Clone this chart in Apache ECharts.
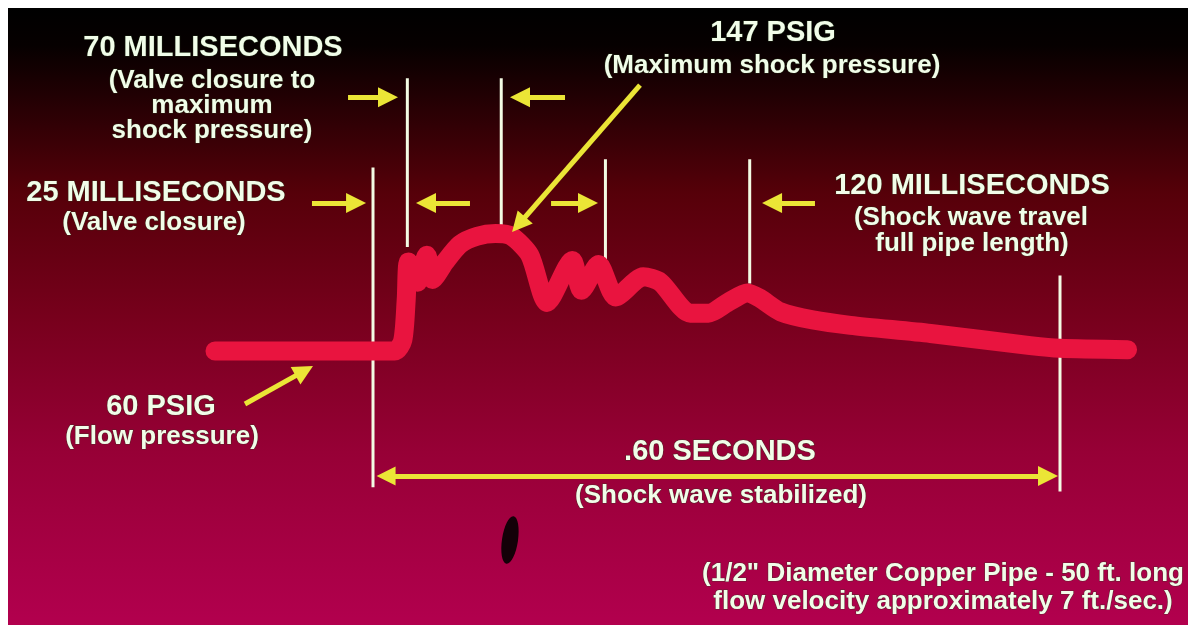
<!DOCTYPE html>
<html>
<head>
<meta charset="utf-8">
<script src="https://cdn.jsdelivr.net/npm/echarts@6/dist/echarts.min.js"></script>
<style>
  html, body { margin: 0; padding: 0; background: #ffffff; }
  #chart { width: 1192px; height: 629px; }
</style>
</head>
<body>
<div id="chart"></div>
<script>
// Pressure trace: time (ms after valve closure starts) and pressure (PSIG)
const times     = [-138, 19, 26, 29, 31, 39, 47, 52, 63, 76, 91, 107, 121, 137, 152, 174, 182, 197, 212, 236, 251, 277, 293, 310, 327, 338, 356, 384, 417, 487, 574, 600, 659];
const pressures = [60, 60, 68, 98, 126, 111, 131, 113, 126, 139, 145, 147, 145, 131, 96, 127, 105, 124, 100, 115, 111, 88, 88, 96, 103, 99, 89, 83, 79, 73, 64, 62, 61];

// Vertical marker lines (time, top and bottom extent in PSIG units)
const markerTimes  = [0, 30, 112, 203, 329, 600];
const markerTop    = [196, 262, 262, 202, 202, 116];
const markerBottom = [-41, 137, 153, 126, 110, -44];

// Annotation arrows [fromTime, fromPsig, toTime, toPsig, double]
const arrowFromT = [-21.8, 167.7, -53.3, 84.7, 155.5, 386.0, 233.2, -111.8, 11.4];
const arrowFromP = [248, 248, 169.6, 169.6, 169.6, 169.6, 257.0, 20.7, -32.6];
const arrowToT   = [13.1, 128.4, -14.8, 46.3, 187.8, 348.5, 127.2, -60.0, 589.5];
const arrowToP   = [248, 248, 169.6, 169.6, 169.6, 169.6, 153.7, 45.3, -32.6];
const arrowBoth  = [false, false, false, false, false, false, false, false, true];

const chart = echarts.init(document.getElementById('chart'), null, { renderer: 'canvas' });

const TXT = '#f1fde9';
const YEL = '#ebe536';
const FONT_T = 'bold 29px "Liberation Sans", Arial, sans-serif';
const FONT_S = 'bold 26px "Liberation Sans", Arial, sans-serif';

function label(text, x, y, font) {
  return {
    type: 'text', x: x, y: y, z: 50,
    style: {
      text: text, font: font, fill: TXT,
      textAlign: 'center', textVerticalAlign: 'middle',
      stroke: 'rgba(40,60,30,0.55)', lineWidth: 1.2,
      shadowColor: 'rgba(200,255,200,0.45)', shadowBlur: 3
    }
  };
}

const series = [];
markerTimes.forEach(function (t, i) {
  series.push({
    type: 'line', z: 2, silent: true, symbol: 'none', animation: false,
    data: [[t, markerBottom[i]], [t, markerTop[i]]],
    lineStyle: { color: '#f3fbe4', width: 3 }
  });
});

series.push({
  type: 'line', z: 5, silent: true, symbol: 'none', animation: false,
  smooth: 0.25,
  data: times.map(function (t, i) { return [t, pressures[i]]; }),
  lineStyle: { color: '#e9143f', width: 19, cap: 'round', join: 'round' }
});

series.push({
  type: 'lines', coordinateSystem: 'cartesian2d', z: 6, silent: true, animation: false,
  data: arrowFromT.map(function (t, i) {
    return {
      coords: [[t, arrowFromP[i]], [arrowToT[i], arrowToP[i]]],
      symbol: arrowBoth[i] ? ['triangle', 'triangle'] : ['none', 'triangle']
    };
  }),
  symbol: ['none', 'triangle'],
  symbolSize: [19, 20],
  lineStyle: { color: YEL, width: 5, opacity: 1 },
  itemStyle: { color: YEL }
});

const option = {
  backgroundColor: '#ffffff',
  animation: false,
  grid: { left: 29.5, top: 27, width: 1145, height: 567, containLabel: false },
  xAxis: { type: 'value', min: -300, max: 700, show: false },
  yAxis: { type: 'value', min: -120, max: 300, show: false },
  graphic: [
    {
      type: 'rect', z: -10, silent: true,
      shape: { x: 8, y: 8, width: 1180, height: 617 },
      style: {
        fill: new echarts.graphic.LinearGradient(0, 0, 0, 1, [
          { offset: 0, color: '#000000' },
          { offset: 0.06, color: '#060000' },
          { offset: 0.3, color: '#560009' },
          { offset: 0.5, color: '#77001c' },
          { offset: 0.72, color: '#970036' },
          { offset: 1, color: '#b2004e' }
        ])
      }
    },
    {
      type: 'ellipse', z: 3, silent: true, x: 510, y: 540, rotation: -0.15,
      shape: { cx: 0, cy: 0, rx: 8, ry: 24 },
      style: { fill: '#140008' }
    },
    label('70 MILLISECONDS', 213, 48, FONT_T),
    label('(Valve closure to', 212, 81, FONT_S),
    label('maximum', 212, 106, FONT_S),
    label('shock pressure)', 212, 131, FONT_S),
    label('25 MILLISECONDS', 156, 193, FONT_T),
    label('(Valve closure)', 154, 223, FONT_S),
    label('147 PSIG', 773, 33, FONT_T),
    label('(Maximum shock pressure)', 772, 66, FONT_S),
    label('120 MILLISECONDS', 972, 186, FONT_T),
    label('(Shock wave travel', 971, 218, FONT_S),
    label('full pipe length)', 972, 244, FONT_S),
    label('60 PSIG', 161, 407, FONT_T),
    label('(Flow pressure)', 162, 437, FONT_S),
    label('.60 SECONDS', 720, 452, FONT_T),
    label('(Shock wave stabilized)', 721, 496, FONT_S),
    label('(1/2" Diameter Copper Pipe - 50 ft. long', 943, 574, FONT_S),
    label('flow velocity approximately 7 ft./sec.)', 943, 602, FONT_S)
  ],
  series: series
};

chart.setOption(option);
</script>
</body>
</html>
